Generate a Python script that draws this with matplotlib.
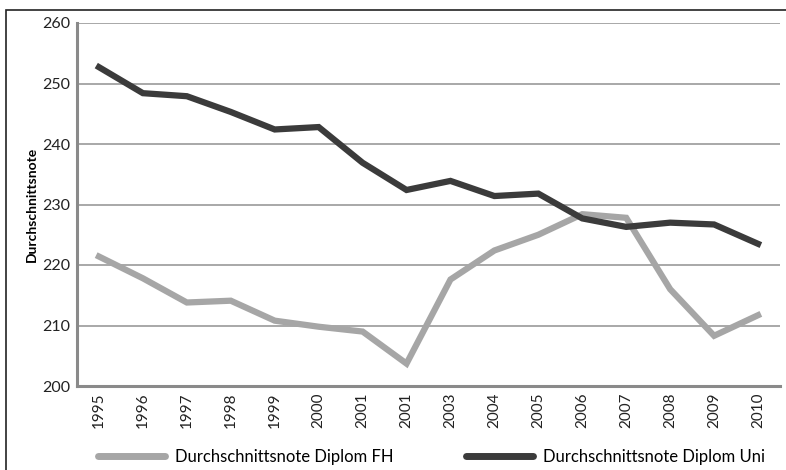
import matplotlib
matplotlib.use("Agg")
import matplotlib.pyplot as plt
from matplotlib.patches import Rectangle

plt.rcParams['font.family'] = ['Lato', 'DejaVu Sans']

years = ["1995", "1996", "1997", "1998", "1999", "2000", "2001", "2001",
         "2003", "2004", "2005", "2006", "2007", "2008", "2009", "2010"]
note_fh = [221.4, 217.8, 213.8, 214.1, 210.8, 209.8, 209.0, 203.7,
           217.6, 222.4, 225.0, 228.4, 227.8, 216.0, 208.3, 211.7]
note_uni = [252.7, 248.4, 247.9, 245.3, 242.4, 242.8, 236.9, 232.4,
            233.9, 231.4, 231.8, 227.7, 226.3, 227.0, 226.7, 223.5]

fig = plt.figure(figsize=(7.86, 4.70), dpi=100)
ax = fig.add_axes([77 / 786, 1 - 386 / 470, 703 / 786, 363 / 470])

x = range(len(years))
l_fh, = ax.plot(x, note_fh, color="#a6a6a6", lw=4.5, solid_joinstyle="miter",
                label="Durchschnittsnote Diplom FH", zorder=3)
l_uni, = ax.plot(x, note_uni, color="#3b3b3b", lw=4.5, solid_joinstyle="miter",
                 label="Durchschnittsnote Diplom Uni", zorder=3)

ax.set_xlim(-0.5, len(years) - 0.5)
ax.set_ylim(200, 260)
ax.set_yticks(range(200, 261, 10))
ax.set_xticks(list(x))
ax.set_xticklabels(years, rotation=90, fontsize=11, color="#222222")
ax.tick_params(axis="y", labelsize=11.5, colors="#222222", length=0, pad=5)
ax.tick_params(axis="x", length=0, pad=5)
ax.grid(axis="y", color="#999999", lw=1.2)
ax.set_axisbelow(True)
for s in ["top", "right"]:
    ax.spines[s].set_visible(False)
for s in ["left", "bottom"]:
    ax.spines[s].set_color("#8a8a8a")
    ax.spines[s].set_linewidth(2.2)
ax.set_ylabel("Durchschnittsnote", fontsize=10, fontweight="bold", labelpad=3)

# two separate legend entries, placed like the original
for handle, x0 in [(l_fh, 98), (l_uni, 466)]:
    leg = fig.legend(handles=[handle], loc="center left",
                     bbox_to_anchor=(x0 / 786, 1 - 457 / 470),
                     frameon=False, fontsize=12, handlelength=4.0,
                     handletextpad=0.6, borderaxespad=0, borderpad=0)
    for line in leg.get_lines():
        line.set_solid_capstyle("round")
        line.set_linewidth(5)

fig.patches.append(Rectangle((6 / 786, -0.1), 1.1, 1 - 10 / 470 + 0.1,
                             transform=fig.transFigure, fill=False,
                             edgecolor="#222222", lw=1.2))

fig.savefig("out.png", dpi=100)
